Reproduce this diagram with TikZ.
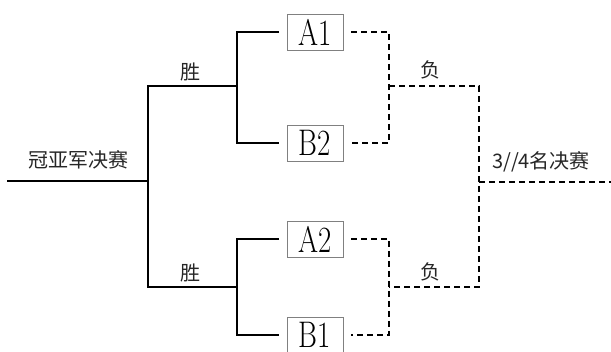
\documentclass[tikz,border=0pt]{standalone}
\usepackage{fontspec}
\newfontfamily\cjk{Noto Sans CJK SC}
\usetikzlibrary{calc}

\begin{document}
\begin{tikzpicture}[x=1pt, y=-1pt, line width=1.8pt,
  team/.style={draw=gray, line width=0.8pt, minimum width=56pt, minimum height=36pt, inner sep=0pt, outer sep=8pt, font=\fontsize{37}{37}\selectfont},
  lose/.style={dash pattern=on 6pt off 4pt},
  lbl/.style={font=\cjk\fontsize{20}{20}\selectfont, inner sep=0pt, text=black!85}]
\useasboundingbox (0,0) rectangle (611,352);
% teams
\node[team] (A1) at (315,32) {\scalebox{.78}[1]{A1}};
\node[team] (B2) at (315,143) {\scalebox{.78}[1]{B2}};
\node[team] (A2) at (315,239) {\scalebox{.78}[1]{A2}};
\node[team] (B1) at (315,335) {\scalebox{.78}[1]{B1}};

% winners side
\coordinate (final) at (7,181); \coordinate (fin) at (148,181);
\coordinate (win1) at (237,86); \coordinate (win2) at (237,287);
\draw (final) -- (fin);
\draw (win1) -| (fin) |- (win2);
\draw (A1) -| (win1) |- (B2);
\draw (A2) -| (win2) |- (B1);
\node[lbl] (champ) at (78,160) {冠亚军决赛};
\node[lbl] (w1) at (190,72) {胜};
\node[lbl] (w2) at (190,273) {胜};

% losers side
\coordinate (los1) at (389,86); \coordinate (los2) at (389,287);
\coordinate (third) at (479,182); \coordinate (end) at (611,182);
\draw[lose] (A1) -| (los1) |- (B2);
\draw[lose] (A2) -| (los2) |- (B1);
\draw[lose] (los1) -| (third) |- (los2);
\draw[lose] (third) -- (end);
\node[lbl] (l1) at (430,70) {负};
\node[lbl] (l2) at (430,272) {负};
\node[lbl] (bronze) at (541,162) {3//4名决赛};
\end{tikzpicture}
\end{document}
